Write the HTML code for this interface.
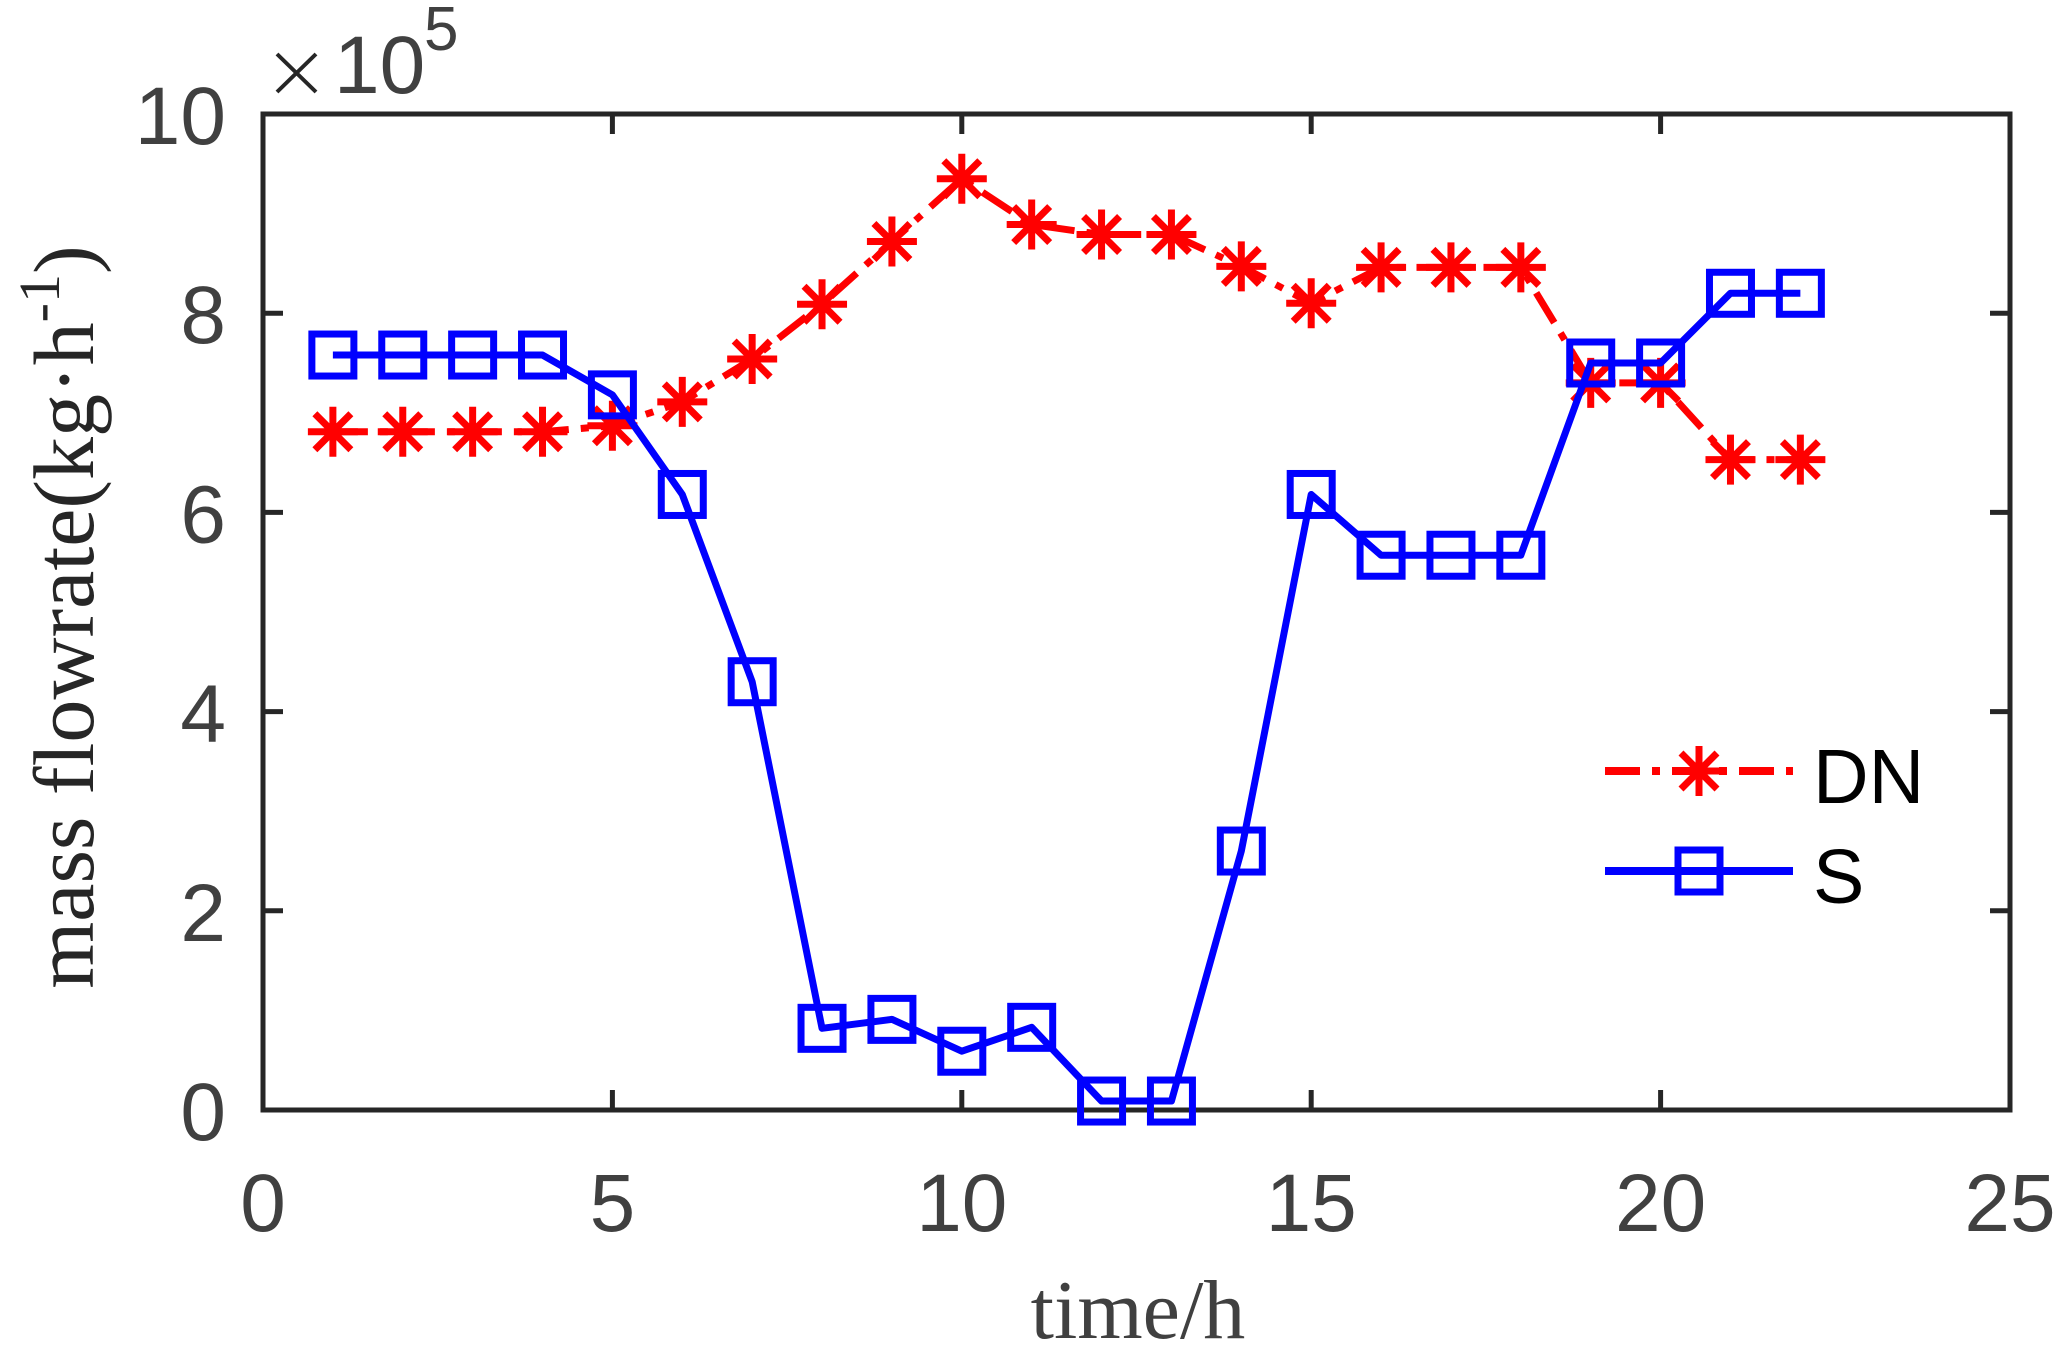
<!DOCTYPE html>
<html><head><meta charset="utf-8"><style>
html,body{margin:0;padding:0;background:#fff;}
svg{display:block;}
</style></head><body>
<svg width="2062" height="1350" viewBox="0 0 2062 1350" xmlns="http://www.w3.org/2000/svg">
<rect width="2062" height="1350" fill="#fff"/>
<g id="plot"></g>
<script>
(function(){
var NS="http://www.w3.org/2000/svg";
var g=document.getElementById('plot');
var L=263,R=2010,T=114,B=1110;
function X(v){return L+v*(R-L)/25;}
function Y(v){return B-v*(B-T)/10;}
function el(n,a,t,p){var e=document.createElementNS(NS,n);for(var k in a)e.setAttribute(k,a[k]);if(t!=null)e.textContent=t;(p||g).appendChild(e);return e;}
el('rect',{x:L,y:T,width:R-L,height:B-T,fill:'none',stroke:'#262626','stroke-width':5});
for(var i=0;i<=5;i++){var x=X(i*5);
 el('line',{x1:x,y1:B,x2:x,y2:B-20,stroke:'#262626','stroke-width':5});
 el('line',{x1:x,y1:T,x2:x,y2:T+20,stroke:'#262626','stroke-width':5});
 el('text',{x:x,y:1231,'font-family':'Liberation Sans, sans-serif','font-size':82,fill:'#404040','text-anchor':'middle'},String(i*5));
}
for(var i=0;i<=5;i++){var y=Y(i*2);
 el('line',{x1:L,y1:y,x2:L+20,y2:y,stroke:'#262626','stroke-width':5});
 el('line',{x1:R,y1:y,x2:R-20,y2:y,stroke:'#262626','stroke-width':5});
 el('text',{x:226,y:y+30,'font-family':'Liberation Sans, sans-serif','font-size':82,fill:'#404040','text-anchor':'end'},String(i*2));
}
el('path',{d:'M277 54L316 92M316 54L277 92',stroke:'#262626','stroke-width':4,fill:'none'});
el('text',{x:334,y:93,'font-family':'Liberation Sans, sans-serif','font-size':82,fill:'#404040'},'10');
el('text',{x:424,y:50,'font-family':'Liberation Sans, sans-serif','font-size':62,fill:'#404040'},'5');
el('text',{x:1138,y:1338,'font-family':'Liberation Serif, serif','font-size':84,fill:'#404040','text-anchor':'middle'},'time/h');
var t=el('text',{x:0,y:0,transform:'translate(93,617) rotate(-90)','font-family':'Liberation Serif, serif','font-size':86,fill:'#262626','text-anchor':'middle'});
el('tspan',{},'mass flowrate(kg\u00b7h',t);
el('tspan',{dy:-34,'font-size':58},'-1',t);
el('tspan',{dy:34},')',t);
var DN=[6.81,6.81,6.81,6.81,6.87,7.11,7.54,8.09,8.72,9.35,8.89,8.79,8.79,8.47,8.10,8.46,8.46,8.46,7.30,7.30,6.53,6.53];
var S=[7.58,7.58,7.58,7.58,7.18,6.18,4.30,0.82,0.91,0.59,0.83,0.09,0.09,2.60,6.18,5.57,5.57,5.57,7.50,7.50,8.20,8.20];
function pts(a){return a.map(function(v,i){return X(i+1)+','+Y(v);}).join(' ');}
el('polyline',{points:pts(DN),fill:'none',stroke:'#f00','stroke-width':7,'stroke-dasharray':'35 12 8 12'});
function star(cx,cy){var r=25,d=18;
 el('path',{d:'M'+(cx-r)+' '+cy+'H'+(cx+r)+'M'+cx+' '+(cy-r)+'V'+(cy+r)+'M'+(cx-d)+' '+(cy-d)+'L'+(cx+d)+' '+(cy+d)+'M'+(cx-d)+' '+(cy+d)+'L'+(cx+d)+' '+(cy-d),stroke:'#f00','stroke-width':7,fill:'none'});}
DN.forEach(function(v,i){star(X(i+1),Y(v));});
el('polyline',{points:pts(S),fill:'none',stroke:'#00f','stroke-width':7,'stroke-linejoin':'round'});
function sq(cx,cy){el('rect',{x:cx-21,y:cy-21,width:42,height:42,fill:'none',stroke:'#00f','stroke-width':7});}
S.forEach(function(v,i){sq(X(i+1),Y(v));});
el('line',{x1:1605,y1:771,x2:1793,y2:771,stroke:'#f00','stroke-width':8,'stroke-dasharray':'35 12 8 12'});
star(1699,771);
el('line',{x1:1605,y1:871,x2:1793,y2:871,stroke:'#00f','stroke-width':8});
sq(1699,871);
el('text',{x:1813,y:803,'font-family':'Liberation Sans, sans-serif','font-size':77,fill:'#000'},'DN');
el('text',{x:1813,y:903,'font-family':'Liberation Sans, sans-serif','font-size':77,fill:'#000'},'S');
})();
</script>
</svg>
</body></html>
